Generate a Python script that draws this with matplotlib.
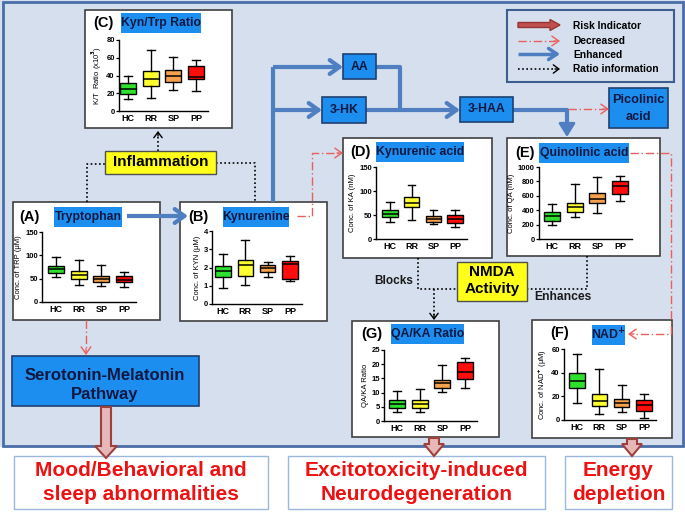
import matplotlib
matplotlib.use('Agg')
import matplotlib.pyplot as plt
from matplotlib.patches import Rectangle, FancyArrow

plt.rcParams['font.family'] = ['Liberation Sans', 'DejaVu Sans']
plt.rcParams['font.weight'] = 'bold'
plt.rcParams['mathtext.default'] = 'bf'

W, H = 685, 514

# Data -----------------------------------------------------------------------------

groups = ['HC', 'RR', 'SP', 'PP']
group_colors = ['#2ee02e', '#ffff30', '#f6a24c', '#ff0d0d']

# each group: whisker low, Q1, median, Q3, whisker high
kt_ratio = [[13, 19, 25, 32, 39], [15, 28, 36, 45, 69], [24, 33, 39, 46, 61], [22, 36, 38, 51, 58]]
trp = [[53, 63, 70, 77, 97], [36, 49, 58, 66, 89], [35, 43, 50, 56, 79], [33, 42, 48, 56, 64]]
kyn = [[0.85, 1.5, 1.8, 2.1, 2.75], [1.05, 1.55, 2.15, 2.4, 3.5], [1.5, 1.75, 1.95, 2.15, 2.3],
       [1.25, 1.35, 2.2, 2.35, 2.65]]
ka = [[36, 45, 52, 60, 77], [40, 66, 75, 87, 113], [31, 35, 42, 47, 61], [26, 33, 41, 50, 60]]
qa = [[195, 255, 325, 380, 490], [310, 380, 445, 495, 760], [360, 505, 555, 640, 860],
      [530, 625, 740, 810, 880]]
qa_ka = [[3.3, 4.7, 6, 7.3, 10.6], [3.2, 4.7, 6, 7.4, 11.1], [10.2, 11.6, 13.3, 14.4, 19.6],
         [11.5, 14.8, 17.3, 20.8, 22.3]]
nad = [[14, 27, 33, 40, 56], [5, 12, 16, 22, 43], [7, 11, 14.5, 18, 30], [2, 8, 13, 17, 22]]

# Colours ----------------------------------------------------------------------------

bg = '#d5dfee'
hl_blue = '#1b8ef0'
flow_blue = '#4f7fc0'
red_dd = '#e8605d'
navy = '#101840'

fig = plt.figure(figsize=(6.85, 5.14), dpi=100)
ax = fig.add_axes([0, 0, 1, 1])
ax.set_xlim(0, W)
ax.set_ylim(H, 0)
ax.axis('off')


def rect(x0, y0, x1, y1, fc, ec, lw=1.0, z=1):
    ax.add_patch(Rectangle((x0, y0), x1 - x0, y1 - y0, facecolor=fc, edgecolor=ec, lw=lw, zorder=z))


def path(xs, ys, color, lw, ls='-', z=2):
    ax.plot(xs, ys, color=color, lw=lw, ls=ls, zorder=z, solid_capstyle='butt')


def head(x0, y0, x1, y1, color, lw, style='->', hl=0.6, hw=0.4, z=4):
    ax.annotate('', xy=(x1, y1), xytext=(x0, y0), zorder=z,
                arrowprops=dict(arrowstyle=f'{style},head_length={hl},head_width={hw}',
                                color=color, lw=lw, shrinkA=0, shrinkB=0))


def txt(x, y, s, size, color=navy, ha='center', z=6, **kw):
    ax.text(x, y, s, fontsize=size, color=color, ha=ha, va='center', fontweight='bold', zorder=z, **kw)


def hollow(x, y0, y1, hw=22):
    ax.add_patch(FancyArrow(x, y0, 0, y1 - y0, width=10, head_width=hw, head_length=12,
                            length_includes_head=True, fc='#e6b8b7', ec='#a0403d', lw=1.5, zorder=3))


# background
rect(0, 0, W, 447, bg, 'none', z=0)
rect(3, 2, 683, 446, 'none', '#4a6ea8', lw=2, z=1)

# panels -----------------------------------------------------------------------------
for x0, y0, x1, y1 in [(85, 10, 232, 128), (13, 202, 160, 320), (180, 202, 327, 321),
                       (343, 138, 492, 258), (507, 138, 660, 256), (352, 321, 499, 437),
                       (532, 320, 672, 438)]:
    rect(x0, y0, x1, y1, 'white', '#404040', lw=1.2, z=1)

# panel titles: (letter, lx, y, name, hx0, hx1)
titles = [('(C)', 93, 23, 'Kyn/Trp Ratio', 121, 201),
          ('(A)', 19, 217, 'Tryptophan', 54, 122),
          ('(B)', 188, 217, 'Kynurenine', 223, 289),
          ('(D)', 350, 152, 'Kynurenic acid', 376, 464),
          ('(E)', 515, 153, 'Quinolinic acid', 539, 629),
          ('(G)', 361, 334, 'QA/KA Ratio', 391, 464),
          ('(F)', 550, 333, r'NAD$^{+}$', 592, 625)]
for lab, lx, y, name, hx0, hx1 in titles:
    txt(lx, y, lab, 10.5, color='black', ha='left')
    ty = y + 2 if lab == '(F)' else y
    rect(hx0, ty - 10, hx1, ty + 10, hl_blue, 'none', z=3)
    txt((hx0 + hx1) / 2, ty, name, 8.8)

# flow boxes
for x0, y0, x1, y1, s in [(343, 54, 376, 79, 'AA'), (322, 97, 366, 123, '3-HK'),
                          (460, 97, 513, 122, '3-HAA')]:
    rect(x0, y0, x1, y1, hl_blue, '#1f3f6f', lw=1.2, z=3)
    txt((x0 + x1) / 2, (y0 + y1) / 2, s, 8.8)
rect(609, 88, 668, 128, hl_blue, '#1f3f6f', lw=1.2, z=3)
txt(638.5, 100, 'Picolinic', 9.2)
txt(638.5, 117, 'acid', 9.2)

rect(12, 356, 199, 406, hl_blue, '#1f3f6f', lw=1.2, z=3)
txt(105, 375, 'Serotonin-Melatonin', 12)
txt(105, 394, 'Pathway', 12)

# yellow boxes
rect(105, 151, 216, 174, '#ffff1a', '#505050', lw=1, z=3)
txt(160.5, 162.5, 'Inflammation', 11, color='black')
rect(457, 262, 527, 301, '#ffff1a', '#505050', lw=1, z=3)
txt(492, 272.5, 'NMDA', 11, color='black')
txt(492, 289, 'Activity', 11, color='black')
txt(413, 281, 'Blocks', 8.5, color='#1a1a1a', ha='right')
txt(534, 297, 'Enhances', 8.7, color='#1a1a1a', ha='left')

# blue enhanced flow
path([127, 184], [216, 216], flow_blue, 3)
head(180, 216, 188, 216, flow_blue, 3, hl=0.7, hw=0.5)
path([273, 273], [202, 67], flow_blue, 3)
path([273, 339], [67, 67], flow_blue, 3)
head(335, 67, 343, 67, flow_blue, 3, hl=0.7, hw=0.5)
path([273, 318], [110, 110], flow_blue, 3)
head(314, 110, 322, 110, flow_blue, 3, hl=0.7, hw=0.5)
path([376, 400, 400], [67, 67, 110], flow_blue, 3)
path([366, 456], [110, 110], flow_blue, 3)
head(452, 110, 460, 110, flow_blue, 3, hl=0.7, hw=0.5)
path([513, 567, 567], [110, 110, 128], flow_blue, 3)
head(567, 124, 567, 137, flow_blue, 2, style='-|>', hl=0.8, hw=0.5)

# dotted ratio lines
dot = (0, (1, 1.5))
path([87, 87, 105], [202, 164, 164], 'black', 1.2, dot)
path([216, 255, 255], [163, 163, 202], 'black', 1.2, dot)
path([158, 158], [151, 135], 'black', 1.2, dot)
head(158, 136, 158, 131, 'black', 1.0, hl=0.4, hw=0.3)
path([418, 418, 457], [258, 289, 289], 'black', 1.2, dot)
path([587, 587, 527], [256, 289, 289], 'black', 1.2, dot)
path([434, 434], [289, 315], 'black', 1.2, dot)
head(434, 314, 434, 320, 'black', 1.0, hl=0.4, hw=0.3)

# red decreased lines
dd = (0, (6, 2, 1, 2))
path([297, 312, 312, 338], [216, 216, 153, 153], red_dd, 1, dd)
head(337, 153, 343, 153, red_dd, 1, hl=0.5, hw=0.35)
path([630, 671, 671, 633], [153, 153, 334, 334], red_dd, 1, dd)
head(634, 334, 628, 334, red_dd, 1, hl=0.5, hw=0.35)
path([86, 86], [320, 350], red_dd, 1, dd)
head(86, 349, 86, 355, red_dd, 1, hl=0.5, hw=0.35)
path([568, 604], [109, 109], red_dd, 1, dd)
head(603, 109, 609, 109, red_dd, 1, hl=0.5, hw=0.35)

# legend
rect(507, 10, 674, 82, bg, '#3d5f90', lw=1.5, z=3)
ax.add_patch(FancyArrow(518, 25, 42, 0, width=5, head_width=11, head_length=10,
                        length_includes_head=True, fc='#c0504d', ec='#963634', lw=1, zorder=4))
path([518, 555], [41, 41], red_dd, 1, dd, z=4)
head(554, 41, 560, 41, red_dd, 1, hl=0.5, hw=0.35)
path([518, 556], [54, 54], flow_blue, 2.5, z=4)
head(552, 54, 560, 54, flow_blue, 2.5, hl=0.6, hw=0.4)
path([518, 555], [69, 69], 'black', 1.2, dot, z=4)
head(555, 69, 560, 69, 'black', 1.0, hl=0.4, hw=0.3)
for y, s in [(26, 'Risk Indicator'), (41, 'Decreased'), (55, 'Enhanced'), (69, 'Ratio information')]:
    txt(573, y, s, 7.4, color='black', ha='left')

# risk outcome boxes
hollow(106, 407, 458)
hollow(434, 438, 456, hw=20)
hollow(632, 439, 456, hw=20)
for x0, x1, lines in [(14, 268, ['Mood/Behavioral and', 'sleep abnormalities']),
                      (288, 545, ['Excitotoxicity-induced', 'Neurodegeneration']),
                      (565, 672, ['Energy', 'depletion'])]:
    rect(x0, 456, x1, 509, 'white', '#9bb8dc', lw=1, z=1)
    txt((x0 + x1) / 2, 470, lines[0], 15, color='#ee1111')
    txt((x0 + x1) / 2, 495, lines[1], 15, color='#ee1111')


# box plots ---------------------------------------------------------------------------
def box_panel(stats, ymax, ystep, ylabel, axis_x, y_top, y_bot, hc_x, pp_x):
    sp = (pp_x - hc_x) / 3
    x_lo = 1 - (hc_x - axis_x) / sp
    x_hi = 4.55
    w_px = (x_hi - x_lo) * sp
    b = fig.add_axes([axis_x / W, 1 - y_bot / H, w_px / W, (y_bot - y_top) / H])
    b.patch.set_alpha(0)
    st = [dict(whislo=s[0], q1=s[1], med=s[2], q3=s[3], whishi=s[4]) for s in stats]
    res = b.bxp(st, positions=[1, 2, 3, 4], widths=0.7, patch_artist=True, showfliers=False,
                capwidths=0.35, boxprops=dict(lw=1, edgecolor='black'),
                medianprops=dict(color='black', lw=1.1), whiskerprops=dict(lw=1),
                capprops=dict(lw=1))
    for p, c in zip(res['boxes'], group_colors):
        p.set_facecolor(c)
    b.set_xlim(x_lo, x_hi)
    b.set_ylim(0, ymax)
    yt = [i * ystep for i in range(int(round(ymax / ystep)) + 1)]
    b.set_yticks(yt)
    b.set_xticks([1, 2, 3, 4], groups)
    for s in ['top', 'right']:
        b.spines[s].set_visible(False)
    for s in ['left', 'bottom']:
        b.spines[s].set_linewidth(1)
    b.tick_params(axis='x', length=0, pad=2, labelsize=6.5)
    b.tick_params(axis='y', length=2, width=0.9, pad=1, labelsize=5.5)
    b.set_ylabel(ylabel, fontsize=5.5, labelpad=2)
    return b


box_panel(kt_ratio, 80, 20, 'K/T  Ratio (x10$^{3}$)', 119, 40, 111, 128, 196)
box_panel(trp, 150, 50, 'Conc. of TRP (μM)', 42, 232, 302, 56, 124)
box_panel(kyn, 4, 1, 'Conc. of KYN (μM)', 212, 231, 304, 223, 290)
box_panel(ka, 150, 50, 'Conc. of KA (nM)', 376, 167, 239, 390, 455)
box_panel(qa, 1000, 200, 'Conc. of QA (nM)', 539, 167, 239, 552, 620)
box_panel(qa_ka, 25, 5, 'QA/KA Ratio', 384, 350, 421, 397, 465)
box_panel(nad, 60, 20, r'Conc. of NAD$^{+}$ (μM)', 564, 349, 420, 577, 644)

fig.savefig('out.png', dpi=100)
